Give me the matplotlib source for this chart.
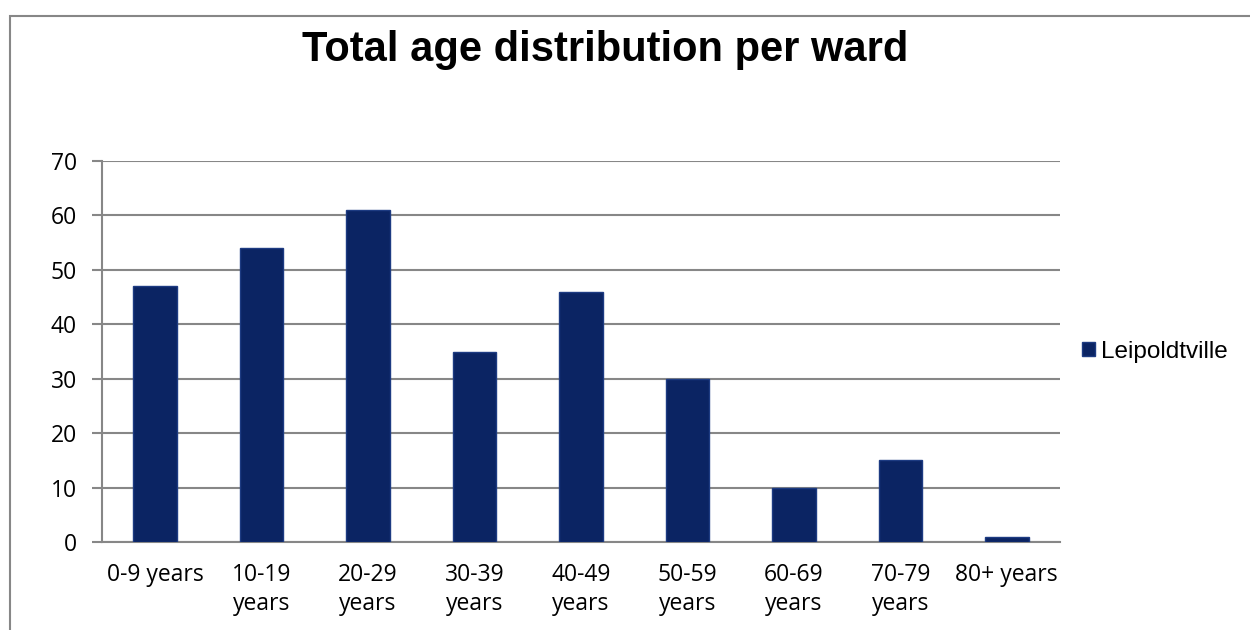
import matplotlib.pyplot as plt
import numpy as np
from matplotlib.patches import Rectangle

# data
age_groups = ["0-9 years", "10-19\nyears", "20-29\nyears", "30-39\nyears",
              "40-49\nyears", "50-59\nyears", "60-69\nyears", "70-79\nyears",
              "80+ years"]
leipoldtville = [47, 54, 61, 35, 46, 30, 10, 15, 1]
y_ticks = [0, 10, 20, 30, 40, 50, 60, 70]

bar_color = "#0b2463"
grid_color = "#878787"

fig = plt.figure(figsize=(12.5, 6.3), dpi=100)
ax = fig.add_axes([0.0816, 0.1397, 0.7664, 0.6047])

# chart border (right and bottom edges lie outside the picture)
fig.patches.append(Rectangle((0.008, -0.05), 1.1, 1.025, transform=fig.transFigure,
                             fill=False, edgecolor=grid_color, linewidth=1.5))

x = np.arange(len(age_groups))
ax.bar(x, leipoldtville, width=0.41, color=bar_color, edgecolor="#1d3b82",
       linewidth=1.0, label="Leipoldtville", zorder=3)

ax.set_xlim(-0.5, len(age_groups) - 0.5)
ax.set_ylim(0, 70)
ax.set_yticks(y_ticks)
ax.set_xticks(x)
ax.set_xticklabels(age_groups, fontsize=16.5, family="Open Sans", linespacing=1.3)
ax.tick_params(axis="x", length=0, pad=15)
ax.tick_params(axis="y", length=7, width=1.5, color=grid_color, labelsize=16.5, pad=11)
for lab in ax.get_yticklabels():
    lab.set_family("Open Sans")

ax.grid(axis="y", color=grid_color, linewidth=1.5, zorder=0)
for s in ["top", "right"]:
    ax.spines[s].set_visible(False)
for s in ["left", "bottom"]:
    ax.spines[s].set_color(grid_color)
    ax.spines[s].set_linewidth(1.5)

fig.text(0.484, 0.921, "Total age distribution per ward", ha="center", va="center",
         fontsize=30, fontweight="bold", family="Liberation Sans")

ax.legend(loc="center left", bbox_to_anchor=(1.0, 0.5), frameon=False,
          prop={"family": "Liberation Sans", "size": 17.5},
          handlelength=0.55, handleheight=0.55, handletextpad=0.25)

fig.savefig("out.png", dpi=100)
